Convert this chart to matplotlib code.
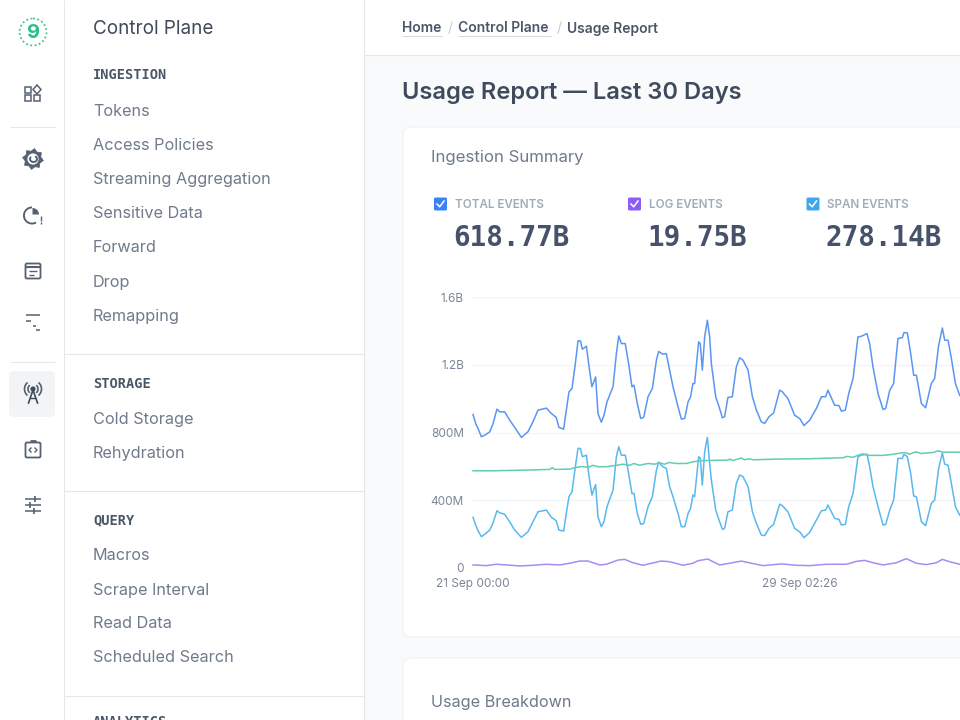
import math
import matplotlib
matplotlib.use("Agg")
import matplotlib.pyplot as plt
from matplotlib.patches import Rectangle, FancyBboxPatch, Circle, Wedge, Polygon, Arc

# ---------- data ----------
hours = [0,1.6,3,5,7,10,12,14.3,15.9,18.9,21.9,24.9,28.9,32.8,35.8,38.8,43.8,46.8,49.7,51.3,54.1,55.7,57.3,59.1,61.1,62.7,64.1,65.3,67.7,69.3,71,73.2,74.6,76.6,78.2,80,83.6,85.6,87,88.6,90.9,92.9,94.9,96.1,98.1,100.1,101.9,104.5,107.1,109.5,110.8,113.4,115.4,117.4,119.4,122.4,124.4,126.4,128.4,129.9,131.3,132.3,134.7,135.7,136.9,138.3,139.9,141.3,
         142.3,144.9,146.9,148.9,150.2,152.2,154.8,157.2,159.2,161.2,164.2,166.8,169.2,172.1,174.1,176.7,179.5,183.1,184.7,188,192,195,197.6,201,205,208,210.5,211.9,215.9,218.5,219.9,222.3,224.3,226.9,229.8,231.8,235.2,236.8,238.8,241.8,244.8,246.4,248.8,251.1,253.7,256.3,257.3,259.3,261.3,263.1,264.7,267.7,270.2,273.6,275.6,278,280.2,281.6,283.6,285.6,288,290.5]
total_events = [906,853,824,775,784,804,853,938,922,922,873,830,771,804,863,932,944,912,889,830,820,932,1040,1060,1207,1341,1341,1292,1309,1187,1070,1128,912,861,902,981,1070,1266,1370,1325,1325,1207,1070,1079,971,883,889,1011,1060,1227,1278,1262,1266,1168,1070,952,879,883,981,1011,1089,1089,1335,1325,1168,1364,1463,1364,
                1207,1011,952,887,893,1007,1011,1187,1241,1227,1168,1011,932,863,853,893,916,1050,1040,1001,902,883,841,873,942,1011,1011,1050,961,959,926,932,1030,1119,1364,1368,1384,1325,1187,1030,936,942,1050,1089,1355,1360,1390,1388,1266,1138,1138,971,946,1089,1119,1315,1417,1345,1345,1237,1089,1020]
span_events = [299,254,220,185,199,224,267,338,326,317,273,224,181,214,273,332,342,299,279,224,218,322,421,450,598,706,706,657,666,539,431,493,303,244,273,362,460,657,716,666,666,558,440,440,322,258,263,362,421,578,625,598,588,480,421,322,244,244,322,352,431,421,657,647,490,686,771,617,
               519,342,283,228,234,332,342,499,549,539,480,332,263,195,191,234,258,377,368,332,234,214,179,210,283,338,342,372,293,287,254,258,362,440,657,666,672,598,480,362,254,258,342,401,647,647,672,657,558,425,421,273,250,381,401,588,680,613,607,499,362,313]
metric_hours = [0,12,31.8,45.8,47.2,48.8,57.7,60.7,63.7,66.7,68.7,71.6,74.6,79.6,85.6,89.6,93.5,95.9,99.5,104.5,108.5,111.4,114.4,117,121.4,127.4,131.3,135.3,141.3,152.2,153.2,155.2,160.2,162.2,164.8,167.2,181.1,201,220.9,223.3,226.9,229.8,232.8,235.8,244.8,249.7,253.7,257.7,260.7,264.3,267.7,274.6,277.6,280.6,290.5]
metric_events = [574,574,578,582,592,582,584,592,598,598,594,606,598,598,606,613,606,617,607,617,613,621,613,623,617,617,627,633,635,637,643,635,649,639,645,639,643,645,651,659,653,666,674,665,665,670,676,682,672,686,676,682,692,684,684]
log_hours = [0,8,13.9,19.9,27.9,35.8,43.8,51.7,57.7,63.7,68.7,75.6,79.6,86.6,90.5,95.5,101.5,106.5,112.4,117.4,125.4,131.3,134.3,140.3,141.3,147.3,153.2,160.2,166.2,173.1,184.1,193,201,210.9,222.9,228.8,233.8,238.8,244.8,252.7,258.7,264.7,270.6,276.6,280.2,284.6,290.5]
log_events = [18,14,22,18,12,16,22,18,28,41,41,18,22,47,51,31,16,28,41,37,16,28,43,53,47,18,28,41,28,14,24,16,14,22,22,39,45,31,18,31,55,28,20,31,51,37,22]
y_ticks = [0,400,800,1200,1600]
y_labels = ["0","400M","800M","1.2B","1.6B"]
x_ticks = [0,194.9]
x_labels = ["21 Sep 00:00","29 Sep 02:26"]
nav_ingestion = ["Tokens","Access Policies","Streaming Aggregation","Sensitive Data","Forward","Drop","Remapping"]
nav_storage = ["Cold Storage","Rehydration"]
nav_query = ["Macros","Scrape Interval","Read Data","Scheduled Search"]
stat_labels = ["TOTAL EVENTS","LOG EVENTS","SPAN EVENTS"]
stat_values = ["618.77B","19.75B","278.14B"]

C_TOTAL, C_SPAN, C_METRIC, C_LOG = "#5a96f2","#5ab8ee","#62cdb4","#a98bf3"
INK, NAV, MUTE = "#3f4a5c","#6f7a8c","#a0abba"
plt.rcParams["font.family"] = ["Inter","DejaVu Sans"]

fig = plt.figure(figsize=(9.6,7.2),dpi=100,facecolor="#f8fafc")
ui = fig.add_axes([0,0,1,1])
ui.set_xlim(0,960); ui.set_ylim(720,0); ui.axis("off")

def rect(x,y,w,h,c,z=1):
    ui.add_patch(Rectangle((x,y),w,h,fc=c,ec="none",zorder=z))
def line(xs,ys,c="#e5e7eb",lw=0.8,z=2):
    ui.plot(xs,ys,color=c,lw=lw,zorder=z,solid_capstyle="butt")
def text(x,y,s,size,c=NAV,**k):
    k.setdefault("va","center"); k.setdefault("ha","left")
    ui.text(x,y,s,fontsize=size,color=c,**k)

# panels
rect(0,0,364,720,"white")
rect(364,0,596,55,"white")
line([64,64],[0,720]); line([364,364],[0,720]); line([364,960],[55,55])
for y in [354,490.5,696]:
    line([65,364],[y,y])
for y in [126.5,361.5]:
    line([10,55],[y,y])
# cards
for y,h in [(127,510),(658,120)]:
    ui.add_patch(FancyBboxPatch((403,y),700,h,boxstyle="round,pad=0,rounding_size=8",fc="white",ec="#eef1f6",lw=0.8,zorder=1))

# icons rail
ICON="#566071"
ui.add_patch(Circle((33,32),13.5,fc="none",ec="#34c98e",lw=1.3,ls=(0,(1,1.4)),zorder=3))
text(33,32.5,"9",14.5,"#2cc085",ha="center",fontweight="bold")
for (x,y) in [(25,87),(25,95),(34,95)]:
    ui.add_patch(Rectangle((x,y),6,6,fc="none",ec=ICON,lw=1.1,zorder=3))
ui.add_patch(Polygon([(37,85),(41,89.5),(37,94),(33,89.5)],fc="none",ec=ICON,lw=1.1,zorder=3))
# gear with swirl
gear=[]
for i in range(16):
    r = 10.5 if i%2==0 else 8
    a = math.radians(i*22.5+8)
    gear.append((33+r*math.cos(a),159+r*math.sin(a)))
ui.add_patch(Polygon(gear,fc=ICON,ec=ICON,lw=0.5,joinstyle="round",zorder=3))
ui.add_patch(Circle((33,159),5.6,fc="white",ec="none",zorder=4))
ui.add_patch(Arc((33.5,159),7,6,theta1=-60,theta2=220,ec=ICON,lw=1.4,zorder=5))
# clock
ui.add_patch(Wedge((32,215.5),9,60,270,width=1.9,fc=ICON,ec="none",zorder=3))
ui.add_patch(Wedge((32.5,214.5),6.5,270,360,fc=ICON,ec="none",zorder=3))
line([41,41],[216,221],ICON,1.0,3); line([41,41],[222,223.5],ICON,1.0,3)
# panel
ui.add_patch(FancyBboxPatch((25.5,263.5),15,15,boxstyle="round,pad=0,rounding_size=1.5",fc="none",ec=ICON,lw=1.3,zorder=3))
line([25,41],[266.5,266.5],ICON,1.5,3); line([29,37],[271,271],ICON,1,3); line([29,34],[275,275],ICON,1,3)
line([26,40],[315,315],ICON,1.1,3); line([26,31],[321,321],ICON,1.1,3); line([33,36],[326,326],ICON,1.1,3); line([36,40],[330,330],ICON,1.1,3)
# active: antenna
ui.add_patch(FancyBboxPatch((9,371),46,46,boxstyle="round,pad=0,rounding_size=5",fc="#f3f4f6",ec="none",zorder=2))
ui.add_patch(Circle((33,389),2.6,fc="#3f4a5c",ec="none",zorder=3))
ui.plot([28.5,33,37.5],[403,390,403],color="#3f4a5c",lw=1.2,zorder=3); line([30,36],[398,398],"#3f4a5c",1,3)
for r,lw in [(5,1.2),(8.5,1.2)]:
    ui.add_patch(Arc((33,389),2*r,2*r,theta1=-50,theta2=50,ec=ICON,lw=lw,zorder=3))
    ui.add_patch(Arc((33,389),2*r,2*r,theta1=130,theta2=230,ec=ICON,lw=lw,zorder=3))
# code
ui.add_patch(FancyBboxPatch((25.5,442.5),15,15,boxstyle="round,pad=0,rounding_size=1.5",fc="none",ec=ICON,lw=1.3,zorder=3))
line([30,36],[441,441],ICON,2,3)
ui.plot([31,29,31],[448,450,452],color=ICON,lw=1,zorder=3); ui.plot([35,37,35],[448,450,452],color=ICON,lw=1,zorder=3)
# sliders
for y,b in [(499,35),(505,30),(511,34)]:
    line([25,41],[y,y],ICON,1.1,3); line([b,b],[y-3,y+3],ICON,1.2,3)

# sidebar text
text(93,29.5,"Control Plane",13.6,INK)
def section(title,ty,items,ys):
    text(93,ty,title,9.8,"#4b5668",family="DejaVu Sans Mono",fontweight="bold")
    for s,y in zip(items,ys):
        text(93,y,s,11.7,NAV)
section("INGESTION",75,nav_ingestion,[111,145.5,179.5,214,248,283,317])
section("STORAGE",384,nav_storage,[419.5,453.5])
section("QUERY",520,nav_query,[555.5,590,624,658])
text(93,722,"ANALYTICS",9.8,"#4b5668",family="DejaVu Sans Mono",fontweight="bold")

# breadcrumb & title
BC="#4b5668"
text(402,28.5,"Home",10,BC,fontweight="semibold")
text(447.5,28.5,"/",10,"#c5ccd7")
text(458,28.5,"Control Plane",10,BC,fontweight="semibold")
text(557,28.5,"/",10,"#c5ccd7")
text(567,28.5,"Usage Report",10,BC,fontweight="semibold")
line([402,442],[35.5,35.5],"#d5dae3",0.8,3); line([458,551],[35.5,35.5],"#d5dae3",0.8,3)
text(402,93,"Usage Report — Last 30 Days",17.05,INK,fontweight="semibold")
text(431,157.5,"Ingestion Summary",12.1,NAV)
text(431,702.5,"Usage Breakdown",11.7,NAV)

# stats
for cx,lx,vx,c,lab,val in zip([440.5,634.5,813],[455,649,827],[453.5,647.5,825.5],["#3b82f6","#8b5cf6","#3ea6ee"],stat_labels,stat_values):
    ui.add_patch(FancyBboxPatch((cx-6.5,197.5),13,13,boxstyle="round,pad=0,rounding_size=1.5",fc=c,ec="none",zorder=3))
    ui.plot([cx-3.5,cx-0.8,cx+3.5],[204,206.8,201],color="white",lw=1.1,zorder=4)
    text(lx,204.5,lab,8.35,MUTE,fontweight="semibold")
    text(vx,238,val,19.9,"#46526a",family="DejaVu Sans Mono",fontweight="bold")

# chart
L,R,T,B = 473,960,297,568
ax = fig.add_axes([L/960,1-B/720,(R-L)/960,(B-T)/720])
ax.patch.set_alpha(0)
ax.set_xlim(0,(R-L)*0.597); ax.set_ylim(0,1600)
ax.set_yticks(y_ticks,y_labels); ax.set_xticks(x_ticks,x_labels)
ax.tick_params(length=0,labelsize=8.5,labelcolor="#7c8696")
ax.tick_params(axis="y",pad=6.5)
ax.tick_params(axis="x",pad=7)
ax.grid(axis="y",color="#f1f4f8",lw=0.9); ax.set_axisbelow(True)
for s in ax.spines.values(): s.set_visible(False)
kw = dict(lw=1.1,clip_on=False,solid_joinstyle="round")
ax.plot(hours,total_events,color=C_TOTAL,**kw)
ax.plot(hours,span_events,color=C_SPAN,**kw)
ax.plot(metric_hours,metric_events,color=C_METRIC,**kw)
ax.plot(log_hours,log_events,color=C_LOG,**kw)

fig.savefig("out.png",dpi=100,facecolor=fig.get_facecolor())
